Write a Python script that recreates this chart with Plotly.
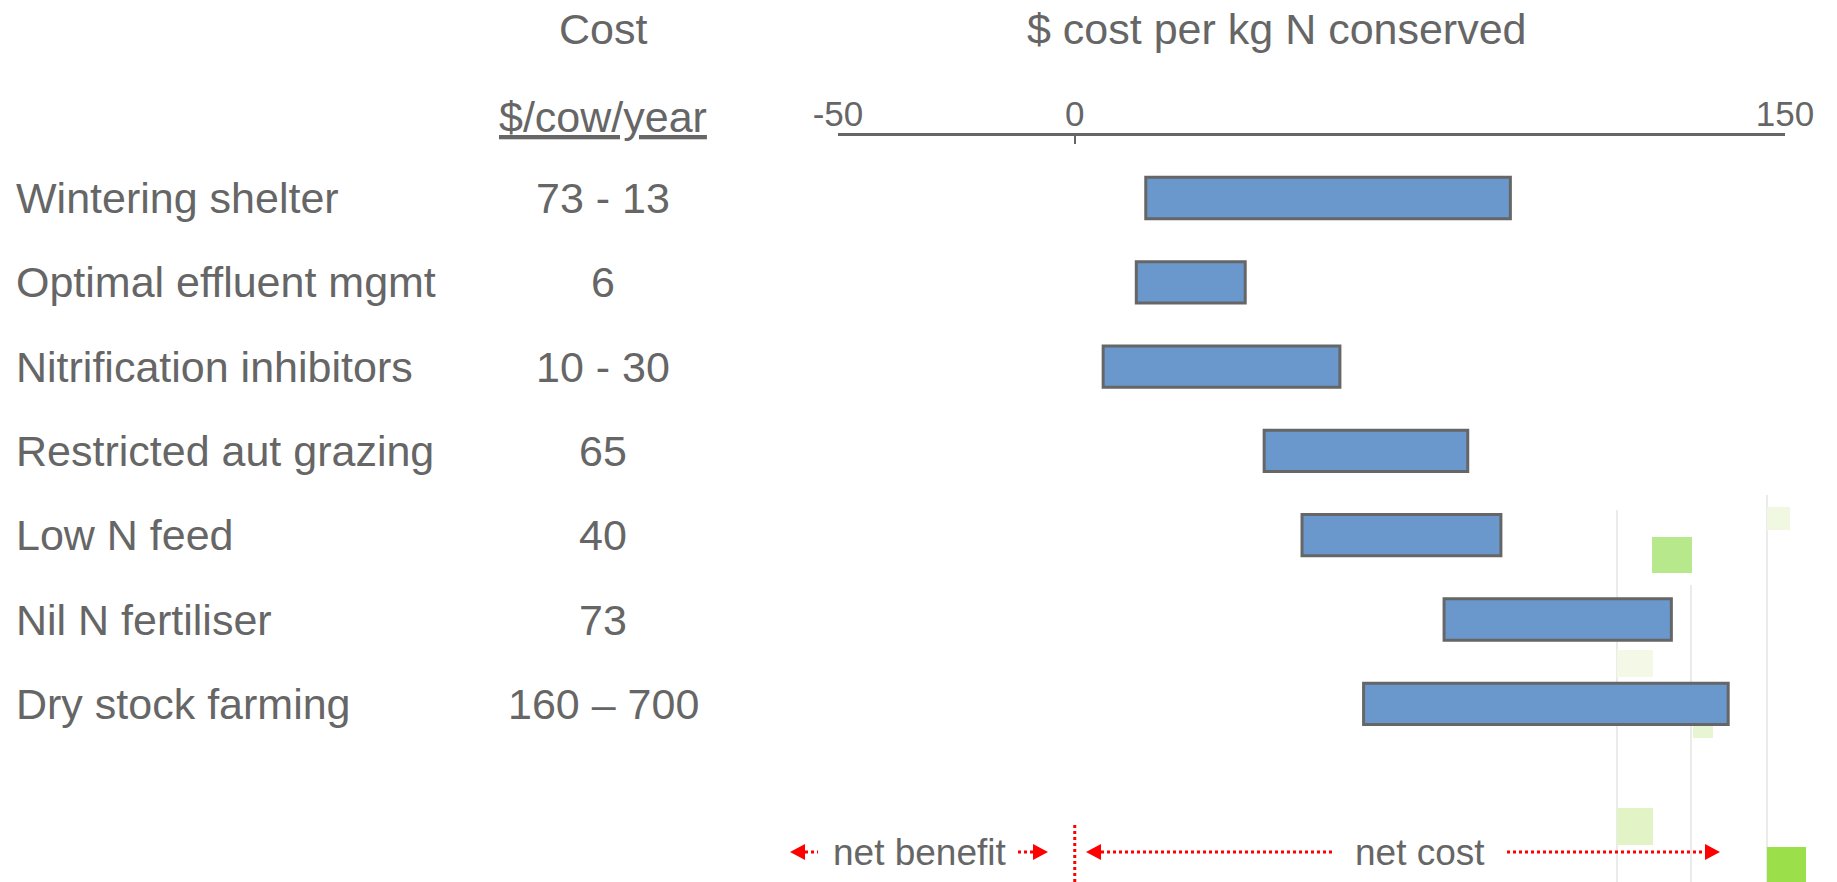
import plotly.graph_objects as go

# ---- data -------------------------------------------------------------
measures = [
    "Wintering shelter",
    "Optimal effluent mgmt",
    "Nitrification inhibitors",
    "Restricted aut grazing",
    "Low N feed",
    "Nil N fertiliser",
    "Dry stock farming",
]
cost_per_cow = ["73 - 13", "6", "10 - 30", "65", "40", "73", "160 – 700"]
# $ cost per kg N conserved: low and high end of each range
cost_low = [15, 13, 6, 40, 48, 78, 61]
cost_high = [92, 36, 56, 83, 90, 126, 138]
tick_values = [-50, 0, 150]
tick_labels = ["-50", "0", "150"]

# ---- layout constants (figure pixels) ----------------------------------
W, H = 1837, 882
TEXT = "#666666"
FONT = "Liberation Sans, Arial, sans-serif"
RED = "#ff0000"


def px(x):
    return x / W


def py(y):
    return 1 - y / H


axis_left, axis_right, axis_top = 838, 1785, 136
row0, row_step = 198, 84.3
y_top = (axis_top - row0) / row_step
y_bottom = (H - row0) / row_step

fig = go.Figure()

fig.add_trace(go.Bar(
    y=measures,
    x=[h - l for l, h in zip(cost_low, cost_high)],
    base=cost_low,
    orientation="h",
    width=0.49,
    marker=dict(color="#6a98cc", line=dict(color="#666666", width=3)),
    hoverinfo="skip",
))

annotations = []
# row labels and per-cow cost column
for name, c in zip(measures, cost_per_cow):
    annotations.append(dict(text=name, x=px(14), xref="paper", xanchor="left",
                            y=name, yref="y", showarrow=False,
                            font=dict(size=43, color=TEXT, family=FONT)))
    annotations.append(dict(text=c, x=px(603), xref="paper", xanchor="center",
                            y=name, yref="y", showarrow=False,
                            font=dict(size=43, color=TEXT, family=FONT)))

# column headers
for txt, x, y in [("Cost", 603, 29), ("<u>$/cow/year</u>", 603, 117),
                  ("$ cost per kg N conserved", 1277, 29)]:
    annotations.append(dict(text=txt, x=px(x), y=py(y), xref="paper", yref="paper",
                            xanchor="center", yanchor="middle", showarrow=False,
                            font=dict(size=43, color=TEXT, family=FONT)))

# net benefit / net cost labels
for txt, x in [("net benefit", 920), ("net cost", 1420)]:
    annotations.append(dict(text=txt, x=px(x), y=py(852), xref="paper", yref="paper",
                            xanchor="center", yanchor="middle", showarrow=False,
                            font=dict(size=37, color=TEXT, family=FONT)))

shapes = []

# faint background decoration: thin vertical rules and green squares
for x, y0 in [(1617, 510), (1691, 585), (1767, 495)]:
    shapes.append(dict(type="line", xref="paper", yref="paper", layer="below",
                       x0=px(x), x1=px(x), y0=py(y0), y1=0,
                       line=dict(color="#ebebeb", width=2)))
for x0, y0, x1, y1, col in [
    (1652, 537, 1692, 573, "#b7e98c"),
    (1767, 507, 1790, 530, "#f1f8e2"),
    (1617, 650, 1653, 677, "#f3f9e6"),
    (1693, 720, 1713, 738, "#e8f5d2"),
    (1617, 808, 1653, 845, "#e2f4c6"),
    (1767, 847, 1806, 882, "#9be04a"),
]:
    shapes.append(dict(type="rect", xref="paper", yref="paper", layer="below",
                       x0=px(x0), x1=px(x1), y0=py(y0), y1=py(y1),
                       fillcolor=col, line=dict(width=0)))

# dotted divider at zero
shapes.append(dict(type="line", xref="x", yref="paper", x0=0, x1=0,
                   y0=py(825), y1=0, line=dict(color=RED, width=3, dash="dot")))


def dotted(x0, x1, y=852):
    shapes.append(dict(type="line", xref="paper", yref="paper",
                       x0=px(x0), x1=px(x1), y0=py(y), y1=py(y),
                       line=dict(color=RED, width=3, dash="dot")))


def head(tip, direction, y=852, length=15, half=8):
    back = tip - direction * length
    path = (f"M {px(tip)} {py(y)} L {px(back)} {py(y - half)} "
            f"L {px(back)} {py(y + half)} Z")
    shapes.append(dict(type="path", xref="paper", yref="paper", path=path,
                       fillcolor=RED, line=dict(width=0)))


head(790, -1); dotted(805, 818)
dotted(1018, 1034); head(1048, 1)
head(1086, -1); dotted(1101, 1333)
dotted(1507, 1706); head(1720, 1)

fig.update_layout(
    width=W, height=H,
    margin=dict(l=0, r=0, t=0, b=0, autoexpand=False),
    paper_bgcolor="white", plot_bgcolor="rgba(0,0,0,0)",
    showlegend=False,
    font=dict(family=FONT, color=TEXT),
    xaxis=dict(domain=[px(axis_left), px(axis_right)], range=[-50, 150],
               side="top", showline=True, linecolor="#666666", linewidth=3,
               ticks="inside", ticklen=8, tickwidth=2, tickcolor="#666666",
               tickvals=tick_values, ticktext=tick_labels,
               tickfont=dict(size=35, color=TEXT, family=FONT),
               ticklabelstandoff=-7, automargin=False,
               showgrid=False, zeroline=False, fixedrange=True),
    yaxis=dict(domain=[0, py(axis_top)], type="category",
               categoryorder="array", categoryarray=measures,
               range=[y_bottom, y_top], showticklabels=False, showgrid=False,
               zeroline=False, showline=False, ticks="", automargin=False,
               fixedrange=True),
    annotations=annotations,
    shapes=shapes,
)

fig.write_html("out.html")
